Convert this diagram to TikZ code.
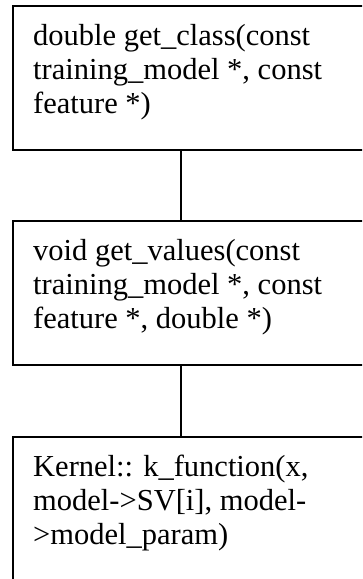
\documentclass[tikz,border=0pt]{standalone}
\usepackage{fontspec}
\setmainfont{Liberation Serif}
\begin{document}
\begin{tikzpicture}[x=1pt,y=-1pt,
  box/.style={draw=black,line width=1.6pt,rectangle,inner sep=0pt,anchor=north west,
    minimum width=380pt,minimum height=144pt},
  txt/.style={anchor=base west,inner sep=0pt,font=\fontsize{30.5}{34}\selectfont},
  link/.style={draw=black,line width=1.6pt}]
\useasboundingbox (0,0) rectangle (362,579);
\clip (0,0) rectangle (362,579);
\fill[white] (0,0) rectangle (362,579);
\node[box] (b1) at (12,5) {};
\node[box] (b2) at (12,220) {};
\node[box,minimum height=200pt] (b3) at (12,436) {};
\node[txt] (t1) at (33,45) {\vtop{\hbox{double get\_class(const}\hbox{training\_model *, const}\hbox{feature *)}}};
\node[txt] (t2) at (33,260) {\vtop{\hbox{void get\_values(const}\hbox{training\_model *, const}\hbox{feature *, double *)}}};
\node[txt] (t3) at (33,476) {\vtop{\hbox{Kernel:: k\_function(x,}\hbox{model->SV[i], model-}\hbox{>model\_param)}}};
\draw[link] ([xshift=169pt]b1.south west) -- ([xshift=169pt]b2.north west);
\draw[link] ([xshift=169pt]b2.south west) -- ([xshift=169pt]b3.north west);
\end{tikzpicture}
\end{document}
